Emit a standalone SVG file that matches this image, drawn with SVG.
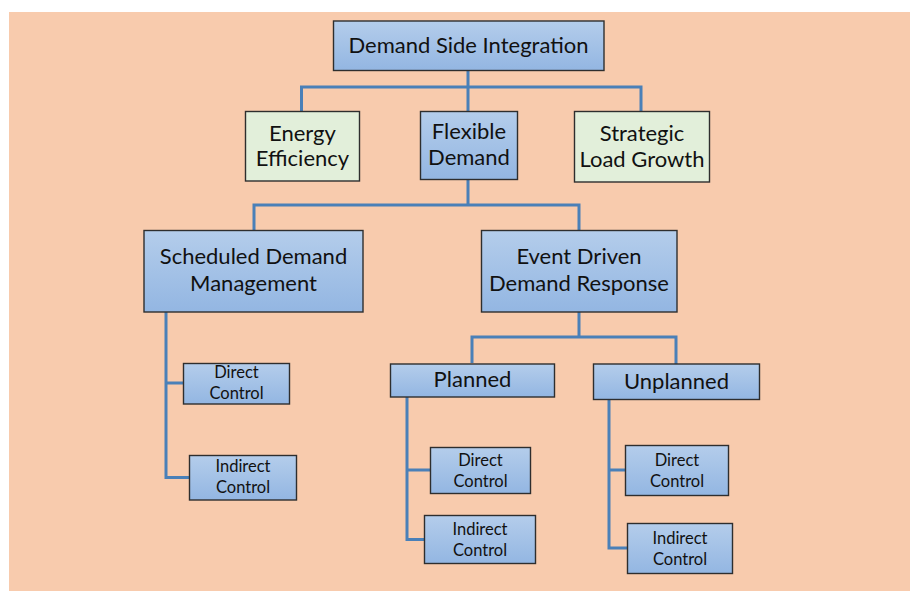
<svg xmlns="http://www.w3.org/2000/svg" width="910" height="591" viewBox="0 0 910 591">
<defs>
<linearGradient id="blue" x1="0" y1="0" x2="0" y2="1">
<stop offset="0" stop-color="#b4cdeb"/>
<stop offset="1" stop-color="#93b6e2"/>
</linearGradient>
<style>
.b{fill:url(#blue);stroke:#2e2e2e;stroke-width:1.4}
.g{fill:#e2efda;stroke:#2e2e2e;stroke-width:1.4}
.t{font-family:Lato,"Open Sans","Liberation Sans",sans-serif;fill:#111;text-anchor:middle}
.l{font-size:22px}
.s{font-size:16.5px}
.c{fill:none;stroke:#4a80b8;stroke-width:3}
</style>
</defs>
<rect x="9" y="12" width="901" height="579" fill="#f8cbad"/>
<g id="connectors" class="c">
<path d="M468 70V87M301.5 111V87H641V111M468 87V111"/>
<path d="M468 179V205M254 230V205H579V230"/>
<path d="M166 312V477.5H189.5M166 383H183.5"/>
<path d="M579 312V337M472 363V337H676V364"/>
<path d="M407 397V539.5H424.5M407 470H430.5"/>
<path d="M609 399V548H627.5M609 470H625.5"/>
</g>
<g id="dsi"><rect class="b" x="333.5" y="21" width="270.5" height="49.5"/><text class="t l" x="468.5" y="53">Demand Side Integration</text></g>
<g id="ee"><rect class="g" x="245.5" y="111.5" width="114" height="69.5"/><text class="t l" x="302.5" y="141">Energy</text><text class="t l" x="302.5" y="166">Efficiency</text></g>
<g id="fd"><rect class="b" x="420.5" y="111.5" width="97" height="68"/><text class="t l" x="469" y="139">Flexible</text><text class="t l" x="469" y="165">Demand</text></g>
<g id="slg"><rect class="g" x="574.5" y="111.5" width="135" height="70.5"/><text class="t l" x="642" y="141">Strategic</text><text class="t l" x="642" y="167">Load Growth</text></g>
<g id="sdm"><rect class="b" x="144" y="230.5" width="219" height="81.5"/><text class="t l" x="253.5" y="264">Scheduled Demand</text><text class="t l" x="253.5" y="291">Management</text></g>
<g id="eddr"><rect class="b" x="481.5" y="230.5" width="195.5" height="81.5"/><text class="t l" x="579" y="264">Event Driven</text><text class="t l" x="579" y="291">Demand Response</text></g>
<g id="sdm-direct"><rect class="b" x="183.5" y="363.5" width="106" height="40.5"/><text class="t s" x="236.5" y="378">Direct</text><text class="t s" x="236.5" y="399">Control</text></g>
<g id="sdm-indirect"><rect class="b" x="189.5" y="455.5" width="107" height="44.5"/><text class="t s" x="243" y="472">Indirect</text><text class="t s" x="243" y="493">Control</text></g>
<g id="planned"><rect class="b" x="390.5" y="364" width="164" height="33"/><text class="t l" x="472.5" y="387">Planned</text></g>
<g id="unplanned"><rect class="b" x="593.5" y="364" width="166" height="35.5"/><text class="t l" x="676.5" y="389">Unplanned</text></g>
<g id="p-direct"><rect class="b" x="430.5" y="447.5" width="100" height="46"/><text class="t s" x="480.5" y="466">Direct</text><text class="t s" x="480.5" y="487">Control</text></g>
<g id="p-indirect"><rect class="b" x="424.5" y="515.5" width="111" height="48"/><text class="t s" x="480" y="535">Indirect</text><text class="t s" x="480" y="556">Control</text></g>
<g id="u-direct"><rect class="b" x="625.5" y="445.5" width="103" height="50"/><text class="t s" x="677" y="466">Direct</text><text class="t s" x="677" y="487">Control</text></g>
<g id="u-indirect"><rect class="b" x="627.5" y="523.5" width="105" height="50"/><text class="t s" x="680" y="544">Indirect</text><text class="t s" x="680" y="565">Control</text></g>
</svg>
